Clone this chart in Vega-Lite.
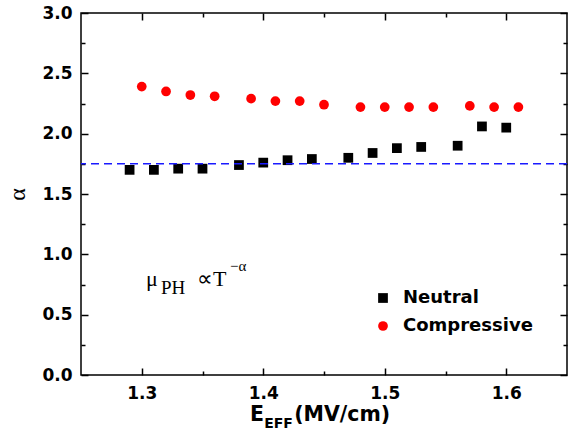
{
  "$schema": "https://vega.github.io/schema/vega-lite/v6.json",
  "width": 486,
  "height": 362,
  "autosize": "none",
  "padding": {"left": 81, "top": 13, "right": 6, "bottom": 60},
  "background": "white",
  "config": {
    "view": {"stroke": "black", "strokeWidth": 1.5},
    "axis": {"domain": false, "grid": false, "tickColor": "black", "tickWidth": 1.5, "labelColor": "black", "labelFont": "DejaVu Sans", "labelFontWeight": "bold", "labelFontSize": 17}
  },
  "resolve": {"axis": {"x": "independent", "y": "independent"}},
  "layer": [
    {
      "data": {"values": [
        {"E": 1.29, "alpha": 1.70, "sample": "Neutral"},
        {"E": 1.31, "alpha": 1.70, "sample": "Neutral"},
        {"E": 1.33, "alpha": 1.71, "sample": "Neutral"},
        {"E": 1.35, "alpha": 1.71, "sample": "Neutral"},
        {"E": 1.38, "alpha": 1.74, "sample": "Neutral"},
        {"E": 1.40, "alpha": 1.76, "sample": "Neutral"},
        {"E": 1.42, "alpha": 1.78, "sample": "Neutral"},
        {"E": 1.44, "alpha": 1.79, "sample": "Neutral"},
        {"E": 1.47, "alpha": 1.80, "sample": "Neutral"},
        {"E": 1.49, "alpha": 1.84, "sample": "Neutral"},
        {"E": 1.51, "alpha": 1.88, "sample": "Neutral"},
        {"E": 1.53, "alpha": 1.89, "sample": "Neutral"},
        {"E": 1.56, "alpha": 1.90, "sample": "Neutral"},
        {"E": 1.58, "alpha": 2.06, "sample": "Neutral"},
        {"E": 1.60, "alpha": 2.05, "sample": "Neutral"},
        {"E": 1.30, "alpha": 2.39, "sample": "Compressive"},
        {"E": 1.32, "alpha": 2.35, "sample": "Compressive"},
        {"E": 1.34, "alpha": 2.32, "sample": "Compressive"},
        {"E": 1.36, "alpha": 2.31, "sample": "Compressive"},
        {"E": 1.39, "alpha": 2.29, "sample": "Compressive"},
        {"E": 1.41, "alpha": 2.27, "sample": "Compressive"},
        {"E": 1.43, "alpha": 2.27, "sample": "Compressive"},
        {"E": 1.45, "alpha": 2.24, "sample": "Compressive"},
        {"E": 1.48, "alpha": 2.22, "sample": "Compressive"},
        {"E": 1.50, "alpha": 2.22, "sample": "Compressive"},
        {"E": 1.52, "alpha": 2.22, "sample": "Compressive"},
        {"E": 1.54, "alpha": 2.22, "sample": "Compressive"},
        {"E": 1.57, "alpha": 2.23, "sample": "Compressive"},
        {"E": 1.59, "alpha": 2.22, "sample": "Compressive"},
        {"E": 1.61, "alpha": 2.22, "sample": "Compressive"}
      ]},
      "mark": {"type": "point", "filled": true, "opacity": 1, "size": 95},
      "encoding": {
        "x": {"field": "E", "type": "quantitative", "scale": {"domain": [1.25, 1.65], "nice": false, "zero": false},
              "axis": {"orient": "bottom", "values": [1.3, 1.4, 1.5, 1.6], "format": ".1f", "offset": -7, "tickSize": 7, "labelPadding": 10.5, "title": null}},
        "y": {"field": "alpha", "type": "quantitative", "scale": {"domain": [0, 3], "nice": false},
              "axis": {"orient": "left", "values": [0, 0.5, 1, 1.5, 2, 2.5, 3], "format": ".1f", "offset": -7, "tickSize": 7, "labelPadding": 9,
                       "title": "α", "titleFont": "Liberation Serif", "titleFontWeight": "normal", "titleFontSize": 24, "titleColor": "black", "titlePadding": 12}},
        "color": {"field": "sample", "type": "nominal", "scale": {"domain": ["Neutral", "Compressive"], "range": ["#000000", "#ff0000"]},
                  "legend": {"orient": "none", "legendX": 293, "legendY": 276, "title": null, "padding": 0, "symbolSize": 95, "symbolStrokeWidth": 0,
                             "labelFont": "DejaVu Sans", "labelFontWeight": "bold", "labelFontSize": 18, "labelColor": "black", "labelOffset": 11, "rowPadding": 10}},
        "shape": {"field": "sample", "type": "nominal", "scale": {"domain": ["Neutral", "Compressive"], "range": ["square", "circle"]}}
      }
    },
    {
      "data": {"values": [{"ref": 1.75}]},
      "mark": {"type": "rule", "color": "#1a1aff", "strokeWidth": 1.5, "strokeDash": [8, 5]},
      "encoding": {
        "y": {"field": "ref", "type": "quantitative", "scale": {"domain": [0, 3], "nice": false},
              "axis": {"orient": "right", "values": [0, 0.5, 1, 1.5, 2, 2.5, 3], "labels": false, "offset": -7, "tickSize": 7, "title": null}}
      }
    },
    {
      "data": {"values": [{"t": "μ", "xp": 1.3035, "yp": 0.741}]},
      "mark": {"type": "text", "font": "Liberation Serif", "fontSize": 22, "align": "left", "baseline": "alphabetic", "color": "black"},
      "encoding": {
        "text": {"field": "t"},
        "x": {"field": "xp", "type": "quantitative", "scale": {"domain": [1.25, 1.65], "nice": false, "zero": false},
              "axis": {"orient": "top", "values": [1.3, 1.4, 1.5, 1.6], "labels": false, "offset": -7, "tickSize": 7, "title": null}},
        "y": {"field": "yp", "type": "quantitative", "scale": {"domain": [0, 3], "nice": false},
              "axis": {"orient": "left", "values": [0.25, 0.75, 1.25, 1.75, 2.25, 2.75], "labels": false, "offset": -4, "tickSize": 4, "title": null}}
      }
    },
    {
      "data": {"values": [{"t": "PH", "xp": 1.3158, "yp": 0.674}]},
      "mark": {"type": "text", "font": "Liberation Serif", "fontSize": 19, "align": "left", "baseline": "alphabetic", "color": "black"},
      "encoding": {
        "text": {"field": "t"},
        "x": {"field": "xp", "type": "quantitative", "scale": {"domain": [1.25, 1.65], "nice": false, "zero": false},
              "axis": {"orient": "bottom", "values": [1.35, 1.45, 1.55], "labels": false, "offset": -4, "tickSize": 4, "title": null}},
        "y": {"field": "yp", "type": "quantitative", "scale": {"domain": [0, 3], "nice": false},
              "axis": {"orient": "right", "values": [0.25, 0.75, 1.25, 1.75, 2.25, 2.75], "labels": false, "offset": -4, "tickSize": 4, "title": null}}
      }
    },
    {
      "data": {"values": [{"t": "∝T", "xp": 1.3455, "yp": 0.741}]},
      "mark": {"type": "text", "font": "Liberation Serif", "fontSize": 22, "align": "left", "baseline": "alphabetic", "color": "black"},
      "encoding": {
        "text": {"field": "t"},
        "x": {"field": "xp", "type": "quantitative", "scale": {"domain": [1.25, 1.65], "nice": false, "zero": false},
              "axis": {"orient": "top", "values": [1.35, 1.45, 1.55], "labels": false, "offset": -4, "tickSize": 4, "title": null}},
        "y": {"field": "yp", "type": "quantitative", "scale": {"domain": [0, 3], "nice": false}, "axis": null}
      }
    },
    {
      "data": {"values": [{"t": "−α", "xp": 1.3726, "yp": 0.865}]},
      "mark": {"type": "text", "font": "Liberation Serif", "fontSize": 15, "align": "left", "baseline": "alphabetic", "color": "black"},
      "encoding": {
        "text": {"field": "t"},
        "x": {"field": "xp", "type": "quantitative", "scale": {"domain": [1.25, 1.65], "nice": false, "zero": false}, "axis": null},
        "y": {"field": "yp", "type": "quantitative", "scale": {"domain": [0, 3], "nice": false}, "axis": null}
      }
    },
    {
      "data": {"values": [
        {"t": "E", "xp": 1.3891, "yp": -0.385},
        {"t": "(MV/cm)", "xp": 1.4255, "yp": -0.385}
      ]},
      "mark": {"type": "text", "font": "DejaVu Sans", "fontWeight": "bold", "fontSize": 20.5, "align": "left", "baseline": "alphabetic", "color": "black"},
      "encoding": {
        "text": {"field": "t"},
        "x": {"field": "xp", "type": "quantitative", "scale": {"domain": [1.25, 1.65], "nice": false, "zero": false}, "axis": null},
        "y": {"field": "yp", "type": "quantitative", "scale": {"domain": [0, 3], "nice": false}, "axis": null}
      }
    },
    {
      "data": {"values": [{"t": "EFF", "xp": 1.4008, "yp": -0.443}]},
      "mark": {"type": "text", "font": "DejaVu Sans", "fontWeight": "bold", "fontSize": 14, "align": "left", "baseline": "alphabetic", "color": "black"},
      "encoding": {
        "text": {"field": "t"},
        "x": {"field": "xp", "type": "quantitative", "scale": {"domain": [1.25, 1.65], "nice": false, "zero": false}, "axis": null},
        "y": {"field": "yp", "type": "quantitative", "scale": {"domain": [0, 3], "nice": false}, "axis": null}
      }
    }
  ]
}
